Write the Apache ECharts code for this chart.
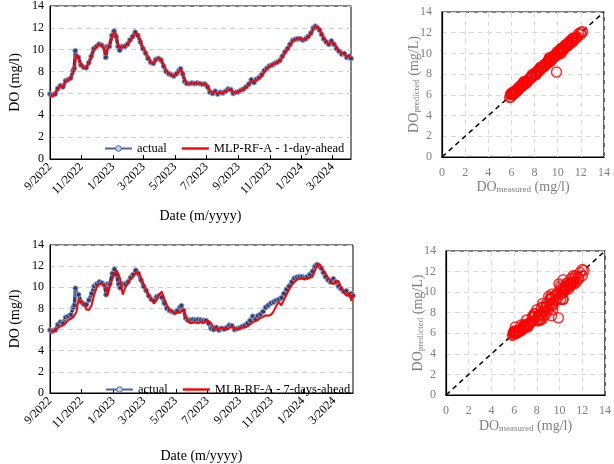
<!DOCTYPE html>
<html>
<head>
<meta charset="utf-8">
<script src="https://cdn.jsdelivr.net/npm/echarts@6/dist/echarts.min.js"></script>
<style>html,body{margin:0;padding:0;background:#fff}#c{width:614px;height:464px}</style>
</head>
<body>
<div id="c"></div>
<script>
// sample days (offset from 1 Sep 2022)
const days = [0,5,10,15,20,25,30,35,40,45,47,49,51,55,60,65,70,75,80,85,90,95,100,105,108,111,115,120,124,128,132,135,140,145,150,155,160,165,170,175,180,185,190,195,200,205,210,215,220,225,230,235,240,245,250,253,257,261,265,270,275,280,285,290,295,300,305,310,315,320,325,330,335,340,345,350,355,360,365,370,375,380,385,390,395,400,405,410,415,420,425,430,435,440,445,450,455,460,465,470,475,480,485,490,495,500,505,510,514,518,522,526,530,535,540,545,550,555,560,565,570,575,580,583];
const actual = [5.95,5.85,5.95,6.45,6.7,6.6,7.15,7.25,7.4,8.1,8.3,9.9,9.3,9.3,8.6,8.4,8.35,8.8,9.4,10.1,10.3,10.5,10.4,10.2,9.3,10.3,10.3,11.3,11.7,11.2,10.3,9.95,10.3,10.3,10.5,10.9,11.2,11.6,11.3,10.7,10.1,9.7,9.2,8.85,8.75,9.1,9.2,9.05,8.5,8.0,7.8,7.7,7.6,7.8,8.1,8.25,7.8,7.1,6.9,6.9,6.95,6.9,6.95,6.9,6.85,6.85,6.6,6.1,6.0,6.2,5.95,6.1,6.05,6.2,6.4,6.35,6.0,6.1,6.15,6.3,6.4,6.6,6.85,7.25,7.0,7.3,7.45,7.7,8.1,8.3,8.5,8.6,8.75,8.85,9.0,9.4,9.8,10.1,10.5,10.85,10.95,11.0,11.0,10.9,11.0,11.2,11.5,12.0,12.15,12.0,11.8,11.4,11.0,10.7,10.5,10.8,10.5,10.1,9.85,9.6,9.65,9.3,9.4,9.2];
const pred1 = [5.8,5.75,6.05,6.3,6.75,6.5,7.05,7.3,7.3,7.95,8.25,8.2,9.6,9.2,8.7,8.3,8.45,8.7,9.25,9.95,10.35,10.4,10.5,10.1,9.5,10.0,10.4,11.1,11.6,11.35,10.5,10.15,10.2,10.4,10.4,10.8,11.1,11.5,11.45,10.85,10.2,9.8,9.35,8.9,8.7,9.0,9.25,9.1,8.65,8.1,7.85,7.65,7.65,7.75,8.0,8.2,7.95,7.3,6.95,6.85,6.9,6.95,6.9,6.95,6.8,6.9,6.7,6.25,6.05,6.1,6.05,6.0,6.15,6.15,6.3,6.4,6.1,6.05,6.2,6.25,6.45,6.5,6.8,7.1,7.15,7.2,7.4,7.6,7.95,8.25,8.45,8.65,8.7,8.9,8.95,9.3,9.7,10.05,10.35,10.75,10.9,11.05,10.95,10.95,10.9,11.15,11.4,11.85,12.1,12.05,11.9,11.5,11.15,10.8,10.5,10.7,10.6,10.2,9.9,9.7,9.6,9.4,9.35,9.25];
const pred7 = [5.95,5.8,5.9,6.15,6.3,6.4,6.6,6.9,7.0,7.2,7.3,7.5,7.7,8.9,8.6,8.5,7.9,7.85,8.3,9.3,10.0,10.3,10.3,10.2,9.8,9.3,10.0,10.8,11.3,11.6,11.2,10.8,9.3,10.0,10.4,10.8,11.0,11.4,11.4,10.9,10.3,9.7,9.3,8.9,8.45,8.8,9.3,9.6,8.9,8.3,7.9,7.7,7.6,7.6,7.6,7.8,7.9,7.3,6.8,6.6,6.65,6.7,6.6,6.7,6.6,6.8,6.8,6.6,6.2,6.0,6.1,6.2,6.1,6.0,6.15,6.3,6.1,6.0,6.15,6.2,6.2,6.3,6.5,6.7,6.8,6.9,7.1,7.2,7.35,7.3,7.4,7.7,8.2,8.6,8.3,8.8,9.3,9.8,10.2,10.5,10.7,10.8,10.8,10.8,10.8,10.9,11.0,11.6,12.1,12.2,11.9,11.6,11.3,10.9,10.6,10.3,10.5,10.6,10.0,9.6,9.2,9.5,8.7,9.4];
const yTicks = {min: 0, max: 14, interval: 2};
const diag = [0, 14];

// daily date categories 1 Sep 2022 .. 6 Apr 2024
const start = Date.UTC(2022, 8, 1);
const cats = [];
const catDates = [];
for (let i = 0; i <= 583; i++) {
  const d = new Date(start + i * 86400000);
  catDates.push(d);
  cats.push((d.getUTCMonth() + 1) + '/' + d.getUTCFullYear());
}
const isTick = (idx) => { const d = catDates[idx]; return d.getUTCDate() === 1 && (d.getUTCMonth() % 2 === 0); };

const F = 'Liberation Serif';
const GRAY = '#808080';

function tsX(gi, gap) {
  return {
    type: 'category', gridIndex: gi, data: cats, boundaryGap: false,
    axisLine: {lineStyle: {color: '#000', width: 1}},
    axisTick: {interval: (i) => isTick(i), inside: true, length: 4, lineStyle: {color: '#000'}},
    axisLabel: {interval: (i) => isTick(i), rotate: 45, fontFamily: F, fontSize: 12, color: '#000', margin: 6},
    splitLine: {show: false},
    name: 'Date (m/yyyy)', nameLocation: 'middle', nameGap: gap,
    nameTextStyle: {fontFamily: F, fontSize: 14, color: '#000'}
  };
}
function tsY(gi) {
  return {
    type: 'value', gridIndex: gi, min: yTicks.min, max: yTicks.max, interval: yTicks.interval,
    axisLine: {show: true, lineStyle: {color: '#000'}},
    axisTick: {show: false},
    axisLabel: {fontFamily: F, fontSize: 12, color: '#000', margin: 6},
    splitLine: {lineStyle: {color: '#d0d0d0', type: [5, 4]}},
    name: 'DO (mg/l)', nameLocation: 'middle', nameGap: 28, nameMoveOverlap: false,
    nameTextStyle: {fontFamily: F, fontSize: 14, color: '#000'}
  };
}
const richBase = {
  a: {fontFamily: F, fontSize: 14, color: GRAY, verticalAlign: 'bottom', lineHeight: 16},
  s: {fontFamily: F, fontSize: 9, color: GRAY, verticalAlign: 'bottom', lineHeight: 10}
};
function scX(gi, gap) {
  return {
    type: 'value', gridIndex: gi, min: yTicks.min, max: yTicks.max, interval: yTicks.interval,
    axisLine: {lineStyle: {color: '#000', width: 1.2}},
    axisTick: {show: false},
    axisLabel: {fontFamily: F, fontSize: 12, color: GRAY, margin: 10},
    splitLine: {lineStyle: {color: '#d9d9d9', type: [5, 4]}},
    name: '{a|DO}{s|measured}{a| (mg/l)}', nameLocation: 'middle', nameGap: gap,
    nameTextStyle: {rich: richBase}
  };
}
function scY(gi) {
  return {
    type: 'value', gridIndex: gi, min: yTicks.min, max: yTicks.max, interval: yTicks.interval,
    axisLine: {lineStyle: {color: '#000', width: 1.2}},
    axisTick: {show: false},
    axisLabel: {fontFamily: F, fontSize: 12, color: GRAY, margin: 10},
    splitLine: {lineStyle: {color: '#d9d9d9', type: [5, 4]}},
    name: '{a|DO}{s|predicted}{a| (mg/L)}', nameLocation: 'middle', nameGap: 21, nameMoveOverlap: false,
    nameTextStyle: {rich: richBase}
  };
}

const actualData = days.map((d, i) => [d, actual[i]]);
const p1Data = days.map((d, i) => [d, pred1[i]]);
const p7Data = days.map((d, i) => [d, pred7[i]]);
const sc1 = actual.map((v, i) => [v, pred1[i]]);
const sc7 = actual.map((v, i) => [v, pred7[i]]);
const diagData = [[diag[0], diag[0]], [diag[1], diag[1]]];

function actualSeries(gi) {
  return {
    name: 'actual', type: 'line', xAxisIndex: gi, yAxisIndex: gi, data: actualData,
    symbol: 'circle', symbolSize: 5, showSymbol: true, showAllSymbol: true,
    lineStyle: {color: '#2c3f74', width: 3.5},
    itemStyle: {color: '#2c3f74', borderColor: '#8fa3c8', borderWidth: 1},
    z: 2
  };
}
function predSeries(gi, name, data) {
  return {
    name: name, type: 'line', xAxisIndex: gi, yAxisIndex: gi, data: data,
    symbol: 'none', lineStyle: {color: '#ff0000', width: 2}, itemStyle: {color: '#ff0000'}, z: 3
  };
}
function scSeries(gi, data) {
  return {
    type: 'scatter', xAxisIndex: gi, yAxisIndex: gi, data: data,
    symbol: 'circle', symbolSize: 10,
    itemStyle: {color: 'rgba(255,255,255,0)', borderColor: '#ff0000', borderWidth: 1.5}, z: 3
  };
}
function diagSeries(gi) {
  return {
    type: 'line', xAxisIndex: gi, yAxisIndex: gi, data: diagData, symbol: 'none',
    lineStyle: {color: '#000', width: 1.5, type: [5, 4]}, z: 2, silent: true
  };
}

const legendText = {fontFamily: F, fontSize: 12.5, color: '#000'};
const redIcon = 'path://M0,0H27V2.4H0Z';
const legendCommon = {
  padding: 0, itemWidth: 27, itemHeight: 7, itemGap: 15, textStyle: legendText, selectedMode: false,
  itemStyle: {color: '#c8d1e6', borderColor: '#4e6499', borderWidth: 1},
  lineStyle: {color: '#4e6499', width: 2}
};
const option = {
  animation: false,
  backgroundColor: '#fff',
  grid: [
    {left: 39, top: 5, width: 312, height: 154, show: true, borderColor: '#000', borderWidth: 1},
    {left: 442, top: 12, width: 162, height: 145, show: true, borderColor: '#000', borderWidth: 1.2},
    {left: 40, top: 245, width: 313, height: 154, show: true, borderColor: '#000', borderWidth: 1},
    {left: 446, top: 251, width: 162, height: 144, show: true, borderColor: '#000', borderWidth: 1.2}
  ],
  xAxis: [tsX(0, 50), scX(1, 17), tsX(2, 56), scX(3, 22)],
  yAxis: [tsY(0), scY(1), tsY(2), scY(3)],
  legend: [
    Object.assign({left: 104, top: 142,
      data: ['actual', {name: 'MLP-RF-A - 1-day-ahead', icon: redIcon, itemStyle: {color: '#ff0000', borderWidth: 0}}]}, legendCommon),
    Object.assign({left: 105, top: 383,
      data: ['actual', {name: 'MLP-RF-A - 7-days-ahead', icon: redIcon, itemStyle: {color: '#ff0000', borderWidth: 0}}]}, legendCommon)
  ],
  series: [
    actualSeries(0), predSeries(0, 'MLP-RF-A - 1-day-ahead', p1Data),
    diagSeries(1), scSeries(1, sc1),
    actualSeries(2), predSeries(2, 'MLP-RF-A - 7-days-ahead', p7Data),
    diagSeries(3), scSeries(3, sc7)
  ]
};
const chart = echarts.init(document.getElementById('c'), null, {renderer: 'canvas'});
chart.setOption(option);
</script>
</body>
</html>
